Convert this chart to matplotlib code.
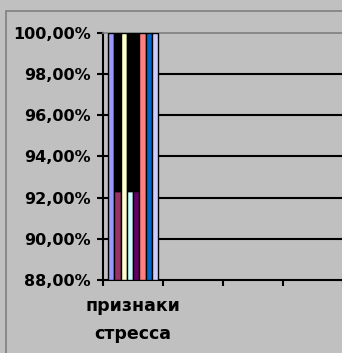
import matplotlib.pyplot as plt
from matplotlib.patches import Rectangle
import numpy as np

# chart data: one category shown, 8 series
categories = ['признаки\nстресса', '', '', '']
series_values = [100.0, 92.31, 100.0, 92.31, 92.31, 100.0, 100.0, 100.0]
series_colors = ['#9999FF', '#993366', '#FFFFCC', '#CCFFFF',
                 '#660066', '#FF8080', '#0066CC', '#CCCCFF']
ytick_values = [88, 90, 92, 94, 96, 98, 100]
ytick_labels = ['88,00%', '90,00%', '92,00%', '94,00%', '96,00%', '98,00%', '100,00%']

W, H = 342, 353
fig = plt.figure(figsize=(W / 100, H / 100), dpi=100)
fig.patch.set_facecolor('#C0C0C0')

# outer chart border (continues off-image)
fig.patches.append(Rectangle((5.5 / W, -0.1), 1.2, 1 - 10.5 / H + 0.1,
                             transform=fig.transFigure, fill=False,
                             edgecolor='#808080', linewidth=1.2))

left, right, top, bottom = 103, 343, 33, 280
ax = fig.add_axes([left / W, 1 - bottom / H, (right - left) / W, (bottom - top) / H])
ax.set_facecolor('#C0C0C0')

n = len(series_values)
group_start = 5 / 60
bw = (1 - 2 * group_start) / n
for i, (v, c) in enumerate(zip(series_values, series_colors)):
    x = group_start + bw * (i + 0.5)
    ax.bar(x, v - 88, bottom=88, width=bw, color=c, edgecolor='black', linewidth=1.0, zorder=3)
    if v < 100:
        # unfilled part of the column is drawn black, as in the source
        ax.bar(x, 100 - v, bottom=v, width=bw, color='black', edgecolor='black', linewidth=1.0, zorder=3)

ax.set_xlim(0, len(categories))
ax.set_ylim(88, 100)

for y in ytick_values[1:-1]:
    ax.axhline(y, color='black', linewidth=1.5, zorder=1)

ax.set_yticks(ytick_values)
ax.set_yticklabels(ytick_labels, fontsize=11.5, fontweight='bold', family='DejaVu Sans')
ax.set_xticks(np.arange(len(categories) + 1))
ax.set_xticklabels([])
ax.set_xticks(np.arange(len(categories)) + 0.5, minor=True)
ax.set_xticklabels(categories, minor=True, fontsize=12.5, fontweight='bold',
                   family='DejaVu Sans', linespacing=1.75)
ax.tick_params(axis='x', which='minor', length=0, pad=12)
ax.tick_params(axis='both', which='major', direction='out', length=4, width=1.5, color='black')
ax.tick_params(axis='y', pad=5)

for s in ['left', 'bottom']:
    ax.spines[s].set_color('black')
    ax.spines[s].set_linewidth(1.5)
ax.spines['top'].set_color('#808080')
ax.spines['top'].set_linewidth(1.2)
ax.spines['right'].set_visible(False)

fig.savefig('out.png', dpi=100, facecolor=fig.get_facecolor())
